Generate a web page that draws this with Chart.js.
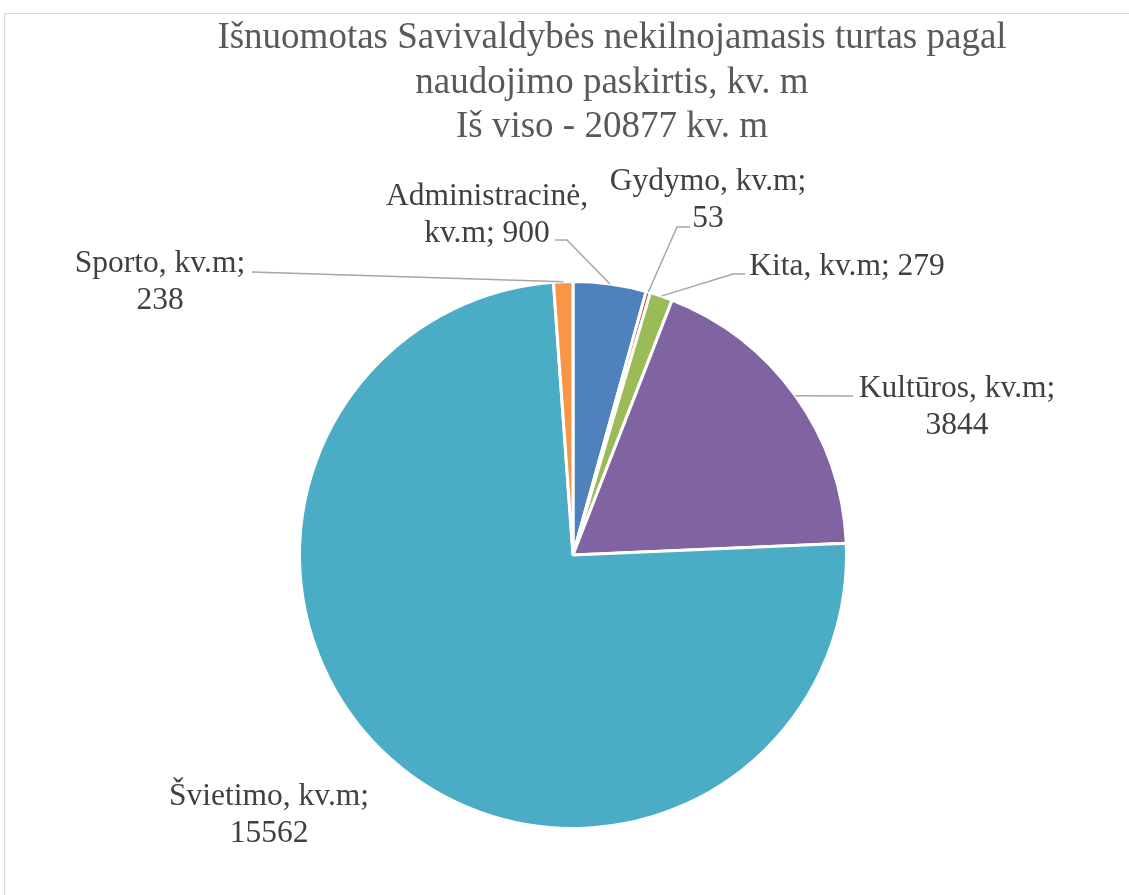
<!DOCTYPE html>
<html lang="lt">
<head>
<meta charset="utf-8">
<title>Išnuomotas Savivaldybės nekilnojamasis turtas</title>
<script src="https://cdn.jsdelivr.net/npm/chart.js@4.4.1/dist/chart.umd.min.js"></script>
<style>
    html, body { margin: 0; padding: 0; background: #fff; overflow: hidden; }
    #frame { position: absolute; left: 4px; top: 13px; width: 1200px; height: 1000px; border: 1px solid #d9d9d9; }
    #wrap { position: absolute; left: 0; top: 0; width: 1129px; height: 895px; }
</style>
</head>
<body>
<div id="frame"></div>
<div id="wrap"><canvas id="rentChart" width="1129" height="895"></canvas></div>
<script>
    'use strict';

    // duomenys
    const categories = ['Administracinė', 'Gydymo', 'Kita', 'Kultūros', 'Švietimo', 'Sporto'];
    const areas = [900, 53, 279, 3844, 15562, 238];
    const unitLabel = 'kv.m';
    const titleLines = [
        'Išnuomotas Savivaldybės nekilnojamasis turtas pagal',
        'naudojimo paskirtis, kv. m',
        'Iš viso - 20877 kv. m'
    ];
    const sliceColors = ['#4F81BD', '#C0504D', '#9BBB59', '#8064A2', '#4BACC6', '#F79646'];

    // etikečių išdėstymas (kaip Excel'yje)
    const labelLayout = [
        { x: 487, y: 205, split: 'name',  leader: [[555, 240], [567, 240]] },
        { x: 708, y: 190, split: 'value', leader: [[690, 227], [677, 227]] },
        { x: 847, y: 275, split: 'none',  leader: [[745, 274], [733, 274]] },
        { x: 957, y: 397, split: 'value', leader: [[853, 396]] },
        { x: 269, y: 805, split: 'value', leader: null },
        { x: 160, y: 272, split: 'value', leader: [[252, 272]] }
    ];

    function labelLines(i, split) {
        const name = categories[i];
        const val = String(areas[i]);
        if (split === 'name') return [name + ',', unitLabel + '; ' + val];
        if (split === 'value') return [name + ', ' + unitLabel + ';', val];
        return [name + ', ' + unitLabel + '; ' + val];
    }

    const titlePlugin = {
        id: 'excelTitle',
        afterDraw(chart) {
            const ctx = chart.ctx;
            ctx.save();
            ctx.fillStyle = '#595959';
            ctx.font = '37px "Liberation Serif", "Times New Roman", serif';
            ctx.textAlign = 'center';
            ctx.textBaseline = 'alphabetic';
            titleLines.forEach((line, k) => {
                ctx.fillText(line, 612, 48 + k * 44.5);
            });
            ctx.restore();
        }
    };

    const labelPlugin = {
        id: 'sliceLabels',
        afterDatasetsDraw(chart) {
            const ctx = chart.ctx;
            const arcs = chart.getDatasetMeta(0).data;
            ctx.save();
            arcs.forEach((arc, i) => {
                const cfg = labelLayout[i];
                if (!cfg) return;
                const p = arc.getProps(['x', 'y', 'startAngle', 'endAngle', 'outerRadius'], true);
                const mid = (p.startAngle + p.endAngle) / 2;
                const ax = p.x + Math.cos(mid) * p.outerRadius;
                const ay = p.y + Math.sin(mid) * p.outerRadius;

                if (cfg.leader) {
                    ctx.strokeStyle = '#A6A6A6';
                    ctx.lineWidth = 1.5;
                    ctx.beginPath();
                    ctx.moveTo(cfg.leader[0][0], cfg.leader[0][1]);
                    for (let k = 1; k < cfg.leader.length; k++) {
                        ctx.lineTo(cfg.leader[k][0], cfg.leader[k][1]);
                    }
                    ctx.lineTo(ax, ay);
                    ctx.stroke();
                }

                ctx.fillStyle = '#404040';
                ctx.font = '31.5px "Liberation Serif", "Times New Roman", serif';
                ctx.textAlign = 'center';
                ctx.textBaseline = 'alphabetic';
                labelLines(i, cfg.split).forEach((line, k) => {
                    ctx.fillText(line, cfg.x, cfg.y + k * 36.5);
                });
            });
            ctx.restore();
        }
    };

    const chart = new Chart(document.getElementById('rentChart').getContext('2d'), {
        type: 'pie',
        data: {
            labels: categories,
            datasets: [{
                data: areas,
                backgroundColor: sliceColors,
                borderColor: '#FFFFFF',
                borderWidth: 3
            }]
        },
        options: {
            responsive: false,
            devicePixelRatio: 1,
            animation: false,
            layout: { padding: { top: 280, bottom: 65, left: 298, right: 281 } },
            plugins: {
                legend: { display: false },
                title: { display: false },
                tooltip: { enabled: true }
            }
        },
        plugins: [titlePlugin, labelPlugin]
    });
</script>
</body>
</html>
